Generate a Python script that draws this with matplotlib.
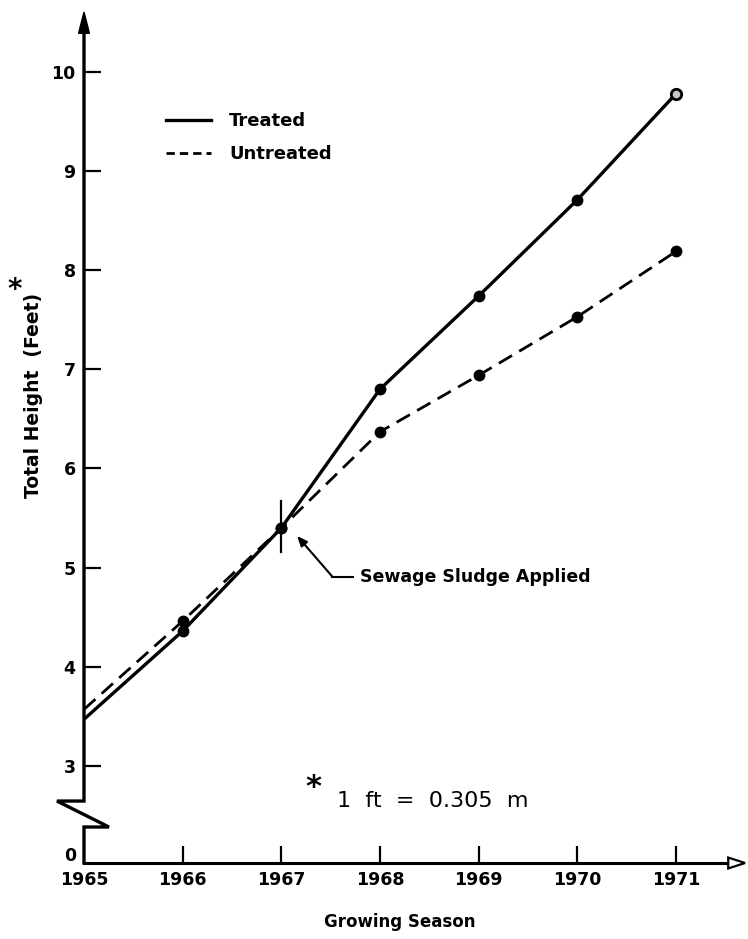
import matplotlib
matplotlib.use("Agg")
import matplotlib.pyplot as plt
from matplotlib.lines import Line2D
from matplotlib.patches import Polygon

# ---- data ----
years = [1965, 1966, 1967, 1968, 1969, 1970, 1971]
treated = [3.47, 4.36, 5.40, 6.80, 7.74, 8.71, 9.78]
untreated = [3.57, 4.46, 5.40, 6.37, 6.94, 7.53, 8.19]
x_ticks = [1965, 1966, 1967, 1968, 1969, 1970, 1971]
y_ticks = [3, 4, 5, 6, 7, 8, 9, 10]
y_zero_pos = 2.02   # plotted position of the "0" tick after the axis break
labels = ["Treated", "Untreated"]

plt.rcParams['font.family'] = ['DejaVu Sans']
W, H = 748, 939
fig = plt.figure(figsize=(W / 100, H / 100), dpi=100)
ax = fig.add_axes([84 / W, 1 - 863 / H, (745 - 84) / W, (863 - 12) / H])
ax.set_xlim(1965, 1971.70)
ax.set_ylim(y_zero_pos, 10.605)
for s in ['top', 'right', 'left']:
    ax.spines[s].set_visible(False)
ax.spines['bottom'].set_linewidth(2.2)
ax.spines['bottom'].set_bounds(1965, 1971.55)

k = 'black'
n = len(years)
# series (no marker at the 1965 start)
ax.plot(years, treated, '-', color=k, lw=2.4, marker='o', ms=7.5,
        markevery=list(range(1, n - 1)), zorder=3)
ax.plot(years[-1], treated[-1], 'o', ms=7.5, mfc='#c8c8c8', mec=k, mew=2, zorder=4)
ax.plot(years, untreated, '--', color=k, lw=2.0, dashes=(5.5, 3), marker='o', ms=7.5,
        markevery=list(range(1, n)), zorder=3)

# vertical mark at the application year
ax.plot([years[2], years[2]], [treated[2] - 0.24, treated[2] + 0.27], color=k, lw=1.6, zorder=4)

# y-axis with break
ax.plot([1965, 1965, 1965.253, 1964.726, 1965, 1965],
        [y_zero_pos, 2.383, 2.383, 2.645, 2.645, 10.45],
        color=k, lw=2.4, clip_on=False, solid_joinstyle='miter', zorder=5)
ax.add_patch(Polygon([[1964.945, 10.39], [1965.055, 10.39], [1965.0, 10.605]],
                     closed=True, color=k, clip_on=False, zorder=5))
# x-axis arrow
ax.add_patch(Polygon([[1971.53, y_zero_pos - 0.055], [1971.53, y_zero_pos + 0.055],
                      [1971.70, y_zero_pos]],
                     closed=True, fc='white', ec=k, lw=1.6, clip_on=False, zorder=5))

# ticks
ax.set_xticks(x_ticks)
ax.set_xticklabels([str(v) for v in x_ticks], fontsize=12.5, fontweight='bold')
ax.set_yticks(y_ticks)
ax.set_yticklabels([str(v) for v in y_ticks], fontsize=12.5, fontweight='bold')
ax.tick_params(axis='both', direction='in', length=12, width=1.6, color=k)
ax.tick_params(axis='x', pad=6)
ax.tick_params(axis='y', pad=6)
ax.xaxis.get_major_ticks()[0].tick1line.set_visible(False)
# "0" label under the axis break
fig.text(76 / W, 1 - 856 / H, "0", ha='right', va='center', fontsize=12.5, fontweight='bold')

# axis labels
fig.text(34 / W, 1 - 395 / H, "Total Height  (Feet)", rotation=90, ha='center', va='center',
         fontsize=13.5, fontweight='bold')
fig.text(15 / W, 1 - 290 / H, "*", ha='center', va='center', fontsize=20, fontweight='bold')
fig.text(400 / W, 1 - 922 / H, "Growing Season", ha='center', va='center',
         fontsize=12, fontweight='bold')

# footnote
fig.text(313 / W, 1 - 788 / H, "*", ha='center', va='center', fontsize=22, fontweight='bold')
fig.text(337 / W, 1 - 801 / H, "1  ft  =  0.305  m", ha='left', va='center', fontsize=16)

# annotation
ax.plot([1967.51, 1967.73], [4.906, 4.906], color=k, lw=1.5)
ax.annotate("", xy=(1967.16, 5.32), xytext=(1967.52, 4.906),
            arrowprops=dict(arrowstyle='-|>,head_length=0.6,head_width=0.25', color=k, lw=1.5,
                            shrinkA=0, shrinkB=0))
ax.text(1967.80, 4.906, "Sewage Sludge Applied", ha='left', va='center', fontsize=12.5,
        fontweight='bold')

# legend
handles = [Line2D([], [], color=k, lw=2.4),
           Line2D([], [], color=k, lw=2.0, ls='--', dashes=(3, 1.8))]
leg = ax.legend(handles, labels, loc='upper left', bbox_to_anchor=(166 / W, 1 - 112 / H),
                bbox_transform=fig.transFigure, frameon=False, handlelength=2.5,
                handletextpad=1.0, labelspacing=0.85, borderpad=0, borderaxespad=0,
                prop=dict(size=13, weight='bold'))

fig.savefig("out.png", dpi=100)
